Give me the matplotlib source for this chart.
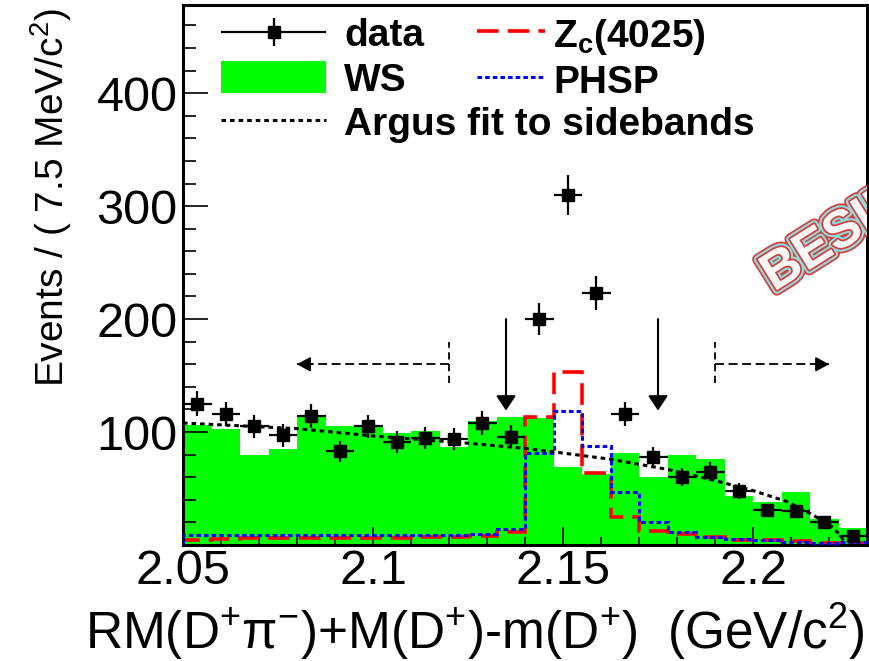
import numpy as np
import matplotlib
matplotlib.use('Agg')
import matplotlib.pyplot as plt
from matplotlib.ticker import MultipleLocator, FixedLocator
from matplotlib.legend_handler import HandlerErrorbar
import matplotlib.patheffects as pe

plt.rcParams['font.family'] = ['Liberation Sans', 'DejaVu Sans']
plt.rcParams['mathtext.fontset'] = 'custom'
plt.rcParams['mathtext.rm'] = 'Liberation Sans'
plt.rcParams['mathtext.it'] = 'Liberation Sans:italic'
plt.rcParams['mathtext.bf'] = 'Liberation Sans:bold'

# 24 bins of 7.5 MeV between 2.05 and 2.23
x_lo, x_hi, n_bins = 2.05, 2.23, 24

data = [125, 116, 105, 97, 114, 83, 105, 91, 95, 94, 108, 96,
        200, 310, 223, 116, 78, 60, 65, 48, 31, 30, 20, 8]
ws = [106, 103, 79.5, 85, 113.5, 105.5, 105.5, 99, 101, 87, 109.5, 113.5,
      112, 69, 63, 81, 60.5, 79.5, 76, 43, 38, 47, 23, 15]
zc = [4, 5.5, 6, 6, 6.5, 6.5, 6.5, 6.5, 7, 7, 8, 11.8,
      113.6, 153.4, 63.5, 25, 12.5, 9.5, 7, 4.5, 4.4, 3.5, 2, 1.5]
phsp = [8.5, 8.5, 8.5, 8.5, 8.5, 8.5, 8.5, 8.5, 8.5, 8.5, 9.5, 14,
        81.7, 118.3, 87.7, 47.2, 20.6, 11.8, 7.5, 5, 4.5, 3, 2, 2.5]

# Argus fit to sidebands
argus_x = [2.05, 2.08, 2.1018, 2.1255, 2.14, 2.1474, 2.1624, 2.1774,
           2.1895, 2.1997, 2.2089, 2.2158, 2.2208, 2.2232, 2.2242]
argus_y = [108, 103, 96, 90, 85.5, 82.5, 76, 67,
           57.5, 48.5, 38.5, 26.5, 16, 8, 0]

# signal window and sideband arrows
signal_cuts = [2.135, 2.175]
cut_arrow_y = [200, 119]
sb_left = [2.12, 2.08]
sb_right = [2.19, 2.22]
sb_arrow_y = 160
sb_bar_y = [143, 180]

edges = np.linspace(x_lo, x_hi, n_bins + 1)
centers = 0.5 * (edges[1:] + edges[:-1])
half = 0.5 * (edges[1] - edges[0])

fig = plt.figure(figsize=(8.69, 6.61), dpi=100)
ax = fig.add_axes([0.2106, 0.1755, 0.7871, 0.8169])

h_ws = ax.stairs(ws, edges, fill=True, color='#00ff00', lw=0, zorder=1)
h_zc = ax.stairs(zc, edges, color='red', lw=2.6, ls=(0, (6, 2.5)), zorder=2)
h_phsp = ax.stairs(phsp, edges, color='blue', lw=2.2, ls=(0, (1.5, 1.0)), zorder=3)
h_argus, = ax.plot(argus_x, argus_y, color='black', lw=2.2, ls=(0, (1.5, 1.3)), zorder=4)

err = np.sqrt(np.array(data, dtype=float))
h_data = ax.errorbar(centers, data, yerr=err, xerr=half, fmt='s', color='black',
                     ms=8.5, elinewidth=1.6, capsize=0, zorder=6)

# signal window arrows
for xc in signal_cuts:
    ax.annotate('', xy=(xc, cut_arrow_y[1]), xytext=(xc, cut_arrow_y[0]),
                arrowprops=dict(arrowstyle='-|>,head_length=0.45,head_width=0.3',
                                color='black', lw=1.5, mutation_scale=20,
                                shrinkA=0, shrinkB=0), zorder=7)

# sideband arrows
for x0, x1 in (sb_left, sb_right):
    ax.plot([x0, x0], sb_bar_y, color='black', lw=1.3, ls=(0, (4, 2.5)), zorder=7)
    ax.plot([x0, x1], [sb_arrow_y, sb_arrow_y], color='black', lw=1.3,
            ls=(0, (5, 2.5)), zorder=7)
    ax.annotate('', xy=(x1, sb_arrow_y), xytext=(x1 + 0.1 * (x0 - x1), sb_arrow_y),
                arrowprops=dict(arrowstyle='-|>,head_length=0.4,head_width=0.22',
                                color='black', lw=1.3, mutation_scale=20,
                                shrinkA=0, shrinkB=0), zorder=7)

# BESIII watermark, clipped by the frame like in the original
wm = ax.text(2.2055, 224, 'BESIII', rotation=32, rotation_mode='anchor',
             ha='left', va='baseline', fontsize=38, fontweight='bold',
             color='#fdf8f8', clip_on=True, zorder=5)
wm.set_path_effects([pe.SimplePatchShadow(offset=(2, -2), shadow_rgbFace='#aaaaaa', alpha=0.6),
                     pe.Stroke(linewidth=8, foreground='#d83c3c'),
                     pe.Stroke(linewidth=5.5, foreground='#8adede'),
                     pe.Stroke(linewidth=2.5, foreground='#d83c3c'),
                     pe.Normal()])

ax.set_xlim(x_lo, x_hi)
ax.set_ylim(0, 478)
ax.xaxis.set_major_locator(FixedLocator([2.05, 2.1, 2.15, 2.2]))
ax.xaxis.set_minor_locator(MultipleLocator(0.01))
ax.set_xticklabels(['2.05', '2.1', '2.15', '2.2'])
ax.yaxis.set_major_locator(FixedLocator([100, 200, 300, 400]))
ax.yaxis.set_minor_locator(MultipleLocator(20))

ax.tick_params(axis='both', which='both', direction='in', top=False, right=False,
               labelsize=35, width=1.2)
ax.tick_params(axis='y', which='major', length=18, pad=4)
ax.tick_params(axis='y', which='minor', length=9)
ax.tick_params(axis='x', which='major', length=13, pad=3)
ax.tick_params(axis='x', which='minor', length=6)
for s in ax.spines.values():
    s.set_linewidth(2.2)

ax.set_ylabel('Events / ( 7.5 MeV/c$^{2}$)', fontsize=28, loc='top')
ax.yaxis.set_label_coords(-0.16, 0.995)
ax.set_xlabel('RM(D$^{+}$π$^{-}$)+M(D$^{+}$)-m(D$^{+}$)  (GeV/c$^{2}$)',
              fontsize=37, loc='right')
ax.xaxis.set_label_coords(0.997, -0.105)

leg_font = dict(family='Liberation Sans', weight='bold', size=28)
leg1 = ax.legend([h_data, h_ws, h_argus], ['data', 'WS', 'Argus fit to sidebands'],
                 loc='upper left', bbox_to_anchor=(0.0556, 0.978), frameon=False,
                 prop=leg_font, handlelength=2.7, handleheight=0.9,
                 handletextpad=0.46, labelspacing=0.17, borderpad=0, borderaxespad=0,
                 handler_map={type(h_data): HandlerErrorbar(xerr_size=1.35, yerr_size=0.36)})
ax.add_artist(leg1)
ax.legend([h_zc, h_phsp], ['Z$_\\mathbf{c}$(4025)', 'PHSP'],
          loc='upper left', bbox_to_anchor=(0.430, 0.978), frameon=False,
          prop=leg_font, handlelength=1.75, handleheight=0.9,
          handletextpad=0.2, labelspacing=0.17, borderpad=0, borderaxespad=0)

fig.savefig('out.png', dpi=100)
